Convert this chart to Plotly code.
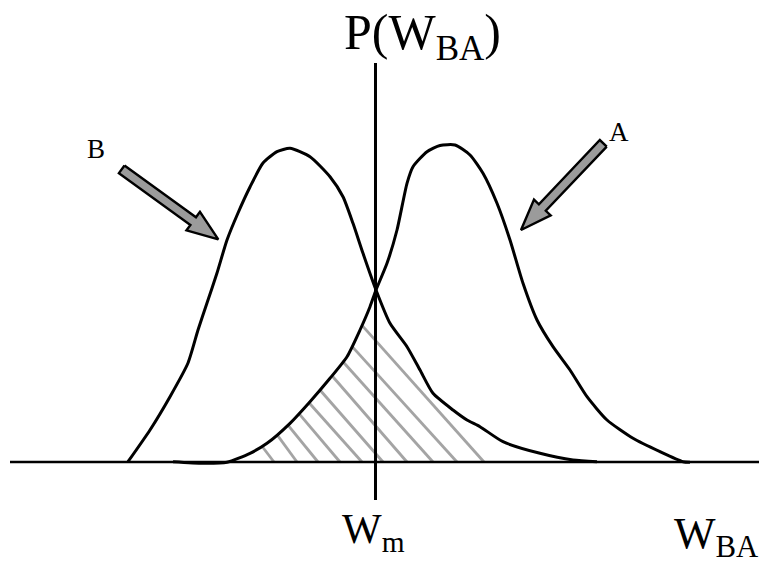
import numpy as np
import plotly.graph_objects as go

# Plot area in pixel-like units: x = W_BA position, y = P(W_BA) height above the axis
BASE_PY = 462.0  # vertical position of the horizontal axis (pixels from top)

# Distribution B (left curve): W positions and screen heights (pixels from top)
w_b = [128, 150, 170, 188, 198, 207, 217, 227, 238, 250, 263, 277, 290, 310, 330,
       343, 353, 363, 376, 390, 407, 420, 433, 453, 467, 480, 503, 540, 573, 597]
py_b = [461.7, 430, 396.7, 363, 330, 303, 273, 240, 213, 187, 163, 151.7, 148.3,
        156.7, 176.7, 196.7, 223.3, 253.3, 290, 323.3, 346.7, 370, 393.3, 410, 420,
        426.7, 441.7, 453.3, 460, 461.7]

# Distribution A (right curve)
w_a = [173, 203, 227, 250, 267, 290, 310, 330, 347, 360, 370, 376, 387, 397, 407,
       413, 427, 440, 455, 470, 483, 497, 510, 523, 537, 553, 570, 587, 607, 633,
       660, 683, 690]
py_a = [461.7, 463.3, 462.3, 453.3, 443.3, 423.3, 401.7, 378.3, 356.7, 330, 306.7,
        290, 263.3, 230, 183.3, 166.7, 151.7, 145.5, 145, 155, 173.3, 203.3, 240,
        283.3, 320, 346.7, 370, 396.7, 420, 438.3, 451.7, 461.7, 462.3]

# Hatch lines: start on the rising flank of A, end on the axis
hatch_start_w = [262, 277, 288, 299, 309, 320, 332, 343, 352, 362]
hatch_end_w = [274, 297, 318, 340, 362, 383, 407, 433, 457, 484]

# Threshold W_m
w_m = 375.5

# Arrows (tail -> tip) in screen pixels
arrow_b = ((121.7, 169.3), (218.3, 239.3))
arrow_a = ((603.3, 143.3), (521.0, 230.0))

p_b = [BASE_PY - v for v in py_b]
p_a = [BASE_PY - v for v in py_a]

SERIF = "Liberation Serif, Times New Roman, serif"

fig = go.Figure()

# hatching under curve A
for ws, we in zip(hatch_start_w, hatch_end_w):
    ys = float(np.interp(ws, w_a, p_a))
    fig.add_trace(go.Scatter(x=[ws, we], y=[ys, 0], mode="lines",
                             line=dict(color="#a4a4a4", width=2.8),
                             hoverinfo="skip", showlegend=False))

for w, p in ((w_b, p_b), (w_a, p_a)):
    fig.add_trace(go.Scatter(x=w, y=p, mode="lines",
                             line=dict(color="black", width=3, shape="spline", smoothing=0.6),
                             hoverinfo="skip", showlegend=False))

# horizontal axis and vertical threshold line
fig.add_trace(go.Scatter(x=[10, 759], y=[0, 0], mode="lines",
                         line=dict(color="black", width=2.4),
                         hoverinfo="skip", showlegend=False))
fig.add_trace(go.Scatter(x=[w_m, w_m], y=[BASE_PY - 500, BASE_PY - 63], mode="lines",
                         line=dict(color="black", width=3),
                         hoverinfo="skip", showlegend=False))


def arrow_polygon(tail, tip, shaft_w=9.5, head_w=23.0, head_len=31.0):
    tx, ty = tail[0], BASE_PY - tail[1]
    hx, hy = tip[0], BASE_PY - tip[1]
    d = np.array([hx - tx, hy - ty])
    L = np.hypot(*d)
    u = d / L
    n = np.array([-u[1], u[0]])
    t = np.array([tx, ty])
    h = np.array([hx, hy])
    b = h - u * head_len
    pts = [t + n * shaft_w / 2, b + n * shaft_w / 2, b + n * head_w / 2, h,
           b - n * head_w / 2, b - n * shaft_w / 2, t - n * shaft_w / 2, t + n * shaft_w / 2]
    return [p[0] for p in pts], [p[1] for p in pts]


for tail, tip in (arrow_b, arrow_a):
    xs, ys = arrow_polygon(tail, tip)
    fig.add_trace(go.Scatter(x=xs, y=ys, mode="lines", fill="toself",
                             fillcolor="#9b9b9b",
                             line=dict(color="black", width=2.4),
                             hoverinfo="skip", showlegend=False))

labels = [
    ("P(W<sub>BA</sub>)", 422, 36, 50),
    ("W<sub>m</sub>", 373, 532, 42),
    ("W<sub>BA</sub>", 716, 536, 44),
    ("A", 619, 132, 27),
    ("B", 96, 149, 27),
]
for text, x, py, size in labels:
    fig.add_annotation(x=x, y=BASE_PY - py, text=text, showarrow=False,
                       xanchor="center", yanchor="middle",
                       font=dict(family=SERIF, size=size, color="black"))

fig.update_layout(
    width=759, height=574,
    margin=dict(l=0, r=0, t=0, b=0),
    paper_bgcolor="white", plot_bgcolor="white",
    xaxis=dict(range=[0, 759], visible=False, fixedrange=True),
    yaxis=dict(range=[BASE_PY - 574, BASE_PY], visible=False, fixedrange=True),
    showlegend=False,
)

fig.write_html("out.html")
